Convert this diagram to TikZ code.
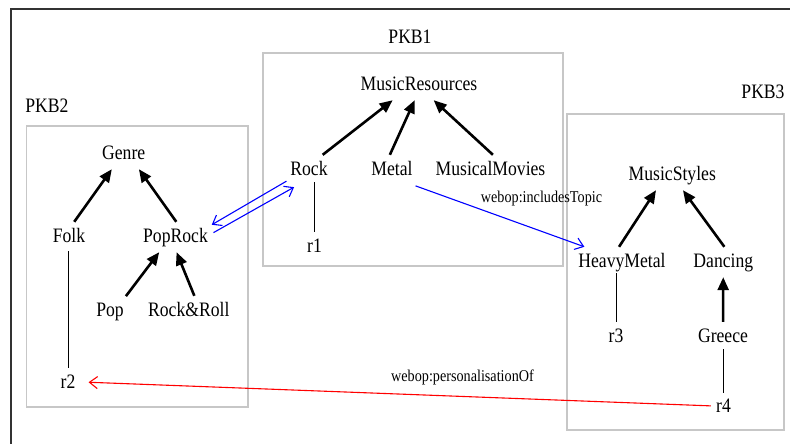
\documentclass[tikz,border=0pt]{standalone}
\usepackage{fontspec}
\setmainfont{Liberation Serif}[FakeStretch=0.86]
\usetikzlibrary{arrows.meta}
\tikzset{
  txt/.style={font=\fontsize{20.5}{22}\selectfont, inner xsep=2pt, inner ysep=0pt,
              text height=14pt, text depth=4pt, minimum height=30pt},
  lbl/.style={font=\fontsize{16.5}{18}\selectfont, inner sep=0pt},
  kb/.style={draw=black!22, line width=1.1pt},
  isa/.style={line width=2.6pt, -{Triangle[length=13pt,width=11pt]}},
  inst/.style={line width=0.9pt},
  rel/.style={line width=1.1pt, -{Straight Barb[length=8pt,width=12pt,line width=1.1pt]}},
}
\begin{document}
\begin{tikzpicture}[x=1pt,y=-1pt]
\clip (0,0) rectangle (790,444);
\useasboundingbox (0,0) rectangle (790,444);
\fill[white] (0,0) rectangle (790,444);
% outer frame (only top and left edges visible)
\draw[line width=2pt, black!80] (11,480) -- (11,9) -- (820,9);

% knowledge-base boxes
\draw[kb] (263,53) rectangle (563,266);
\draw[kb] (26.5,126) rectangle (248,407);
\draw[kb] (567,114) rectangle (784,430);
\node[txt] (pkb1) at (410,39) {PKB1};
\node[txt] (pkb2) at (47,108) {PKB2};
\node[txt] (pkb3) at (763,94) {PKB3};

% PKB1
\node[txt] (MR) at (419,85) {MusicResources};
\node[txt] (Rock) at (309,170) {Rock};
\node[txt] (Metal) at (392,170) {Metal};
\node[txt] (MM) at (490.5,170) {MusicalMovies};
\node[txt] (r1) at (314.5,247) {r1};

% PKB2
\node[txt] (Genre) at (123.7,154) {Genre};
\node[txt] (Folk) at (69,237) {Folk};
\node[txt] (PopRock) at (175.5,237) {PopRock};
\node[txt] (Pop) at (110,311) {Pop};
\node[txt] (RR) at (188.8,311) {Rock\&Roll};
\node[txt] (r2) at (68,383) {r2};

% PKB3
\node[txt] (MS) at (672.3,175) {MusicStyles};
\node[txt] (HM) at (622,262) {HeavyMetal};
\node[txt] (Dancing) at (723.3,262) {Dancing};
\node[txt] (r3) at (616,337) {r3};
\node[txt] (Greece) at (723,337) {Greece};
\node[txt] (r4) at (723.5,407) {r4};

% subclass arrows
\draw[isa] (Rock.48) -- (MR.210);
\draw[isa] (Metal.98) -- (MR.254);
\draw[isa] (MM.81) -- (MR.314);
\draw[isa] (Folk.71) -- (Genre.232);
\draw[isa] (PopRock.87) -- (Genre.315);
\draw[isa] (Pop.43) -- (PopRock.223);
\draw[isa] (RR.70) -- (PopRock.274);
\draw[isa] (HM.101) -- (MS.223);
\draw[isa] (Dancing.86) -- (MS.305);
\draw[isa] (Greece) -- (Dancing);

% instance lines
\draw[inst, shorten >=-3pt] (r1) -- (r1 |- Rock.south);
\draw[inst, shorten >=-1pt] (r2) -- (r2 |- Folk.south);
\draw[inst, shorten >=-4pt] (r3) -- (r3 |- HM.south);
\draw[inst, shorten <=-1pt, shorten >=-3pt] (r4) -- (r4 |- Greece.south);

% cross-KB relations
\draw[rel, blue, shorten <=2pt, shorten >=2pt] (Rock.206) -- (PopRock.18);
\draw[rel, blue, shorten <=4pt, shorten >=4pt] (PopRock.4) -- (Rock.233);
\draw[rel, blue, shorten <=2pt] (Metal.325) -- (HM.158);
\node[lbl] (incl) at (541.5,199) {webop:includesTopic};
\draw[rel, red, shorten <=3pt, shorten >=11pt] (r4.174) -- (r2.7);
\node[lbl] (pers) at (462.5,377) {webop:personalisationOf};
\end{tikzpicture}
\end{document}
